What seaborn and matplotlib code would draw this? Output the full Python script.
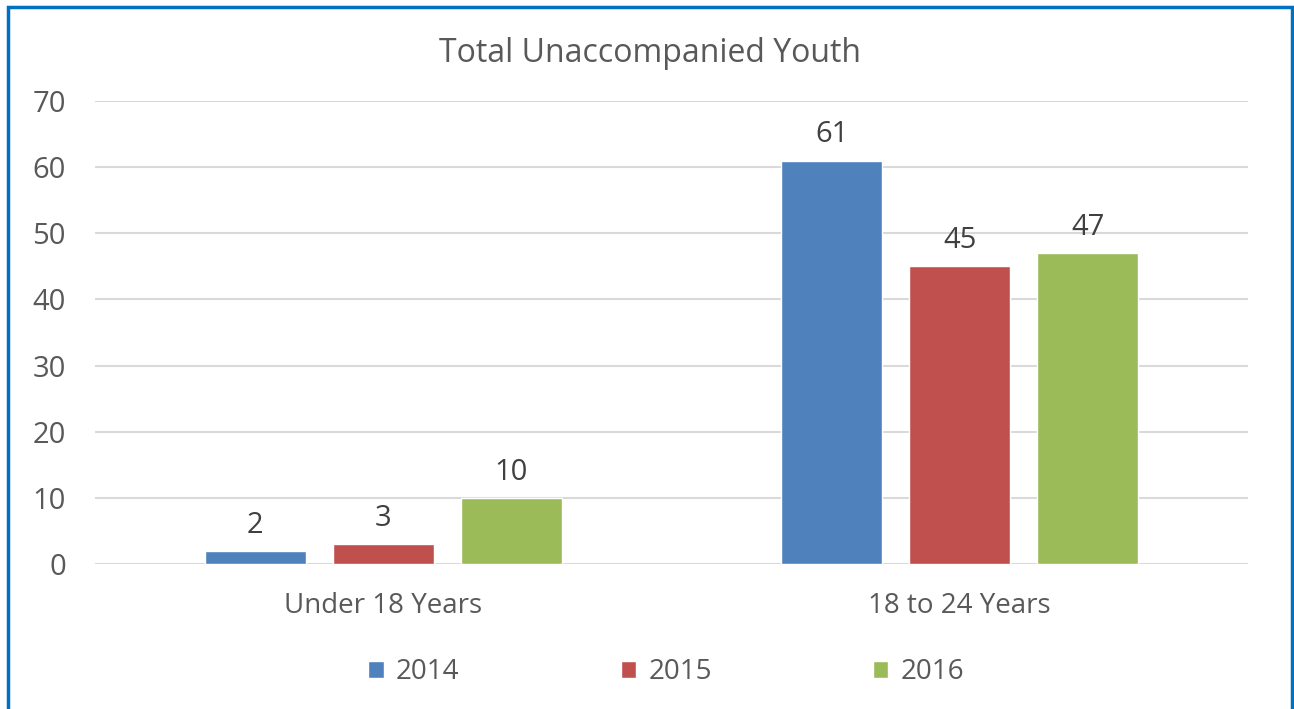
import matplotlib
matplotlib.use("Agg")
import matplotlib.pyplot as plt
import seaborn as sns
import pandas as pd
from matplotlib.patches import Rectangle

categories = ["Under 18 Years", "18 to 24 Years"]
years = ["2014", "2015", "2016"]
values_2014 = [2, 61]
values_2015 = [3, 45]
values_2016 = [10, 47]
colors = ["#4F81BD", "#C0504D", "#9BBB59"]

rows = []
for yr, vals in zip(years, [values_2014, values_2015, values_2016]):
    for c, v in zip(categories, vals):
        rows.append({"Category": c, "Year": yr, "Value": v})
df = pd.DataFrame(rows)

sns.set_theme(style="white")
plt.rcParams['font.family'] = ['Open Sans', 'DejaVu Sans']
TXT = "#595959"

fig = plt.figure(figsize=(12.94, 7.09), dpi=100)
ax = fig.add_axes([95/1294, 1-564/709, (1248-95)/1294, (564-101)/709])

sns.barplot(data=df, x="Category", y="Value", hue="Year", order=categories,
            hue_order=years, palette=colors, width=0.666, gap=0.21,
            saturation=1, ax=ax, legend=True)

ax.set_ylim(0, 70)
ax.set_yticks(range(0, 71, 10))
ax.yaxis.grid(True, color="#D9D9D9", lw=1.5)
ax.set_axisbelow(True)
for s in ax.spines.values():
    s.set_visible(False)
ax.set_xlabel("")
ax.set_ylabel("")
ax.tick_params(axis="y", length=0, pad=21, labelsize=21, labelcolor=TXT)
ax.tick_params(axis="x", length=0, pad=20, labelsize=20, labelcolor=TXT)

for cont in ax.containers:
    ax.bar_label(cont, padding=8, fontsize=21, color="#404040")

fig.text(0.502, 1-54/709, "Total Unaccompanied Youth", fontsize=23,
         color=TXT, ha="center", va="center")

handles, labels = ax.get_legend_handles_labels()
ax.get_legend().remove()
fig.legend(handles, labels, loc="center", bbox_to_anchor=(0.515, 1-672/709),
           ncol=3, frameon=False, fontsize=20, labelcolor=TXT,
           handlelength=0.55, handleheight=0.55, handletextpad=0.45,
           columnspacing=5.8)

fig.add_artist(Rectangle((8/1294, -0.05), (1292-8)/1294, 1.05-7/709,
                         transform=fig.transFigure, fill=False,
                         edgecolor="#0070C0", lw=2.5))

fig.savefig("out.png", dpi=100)
